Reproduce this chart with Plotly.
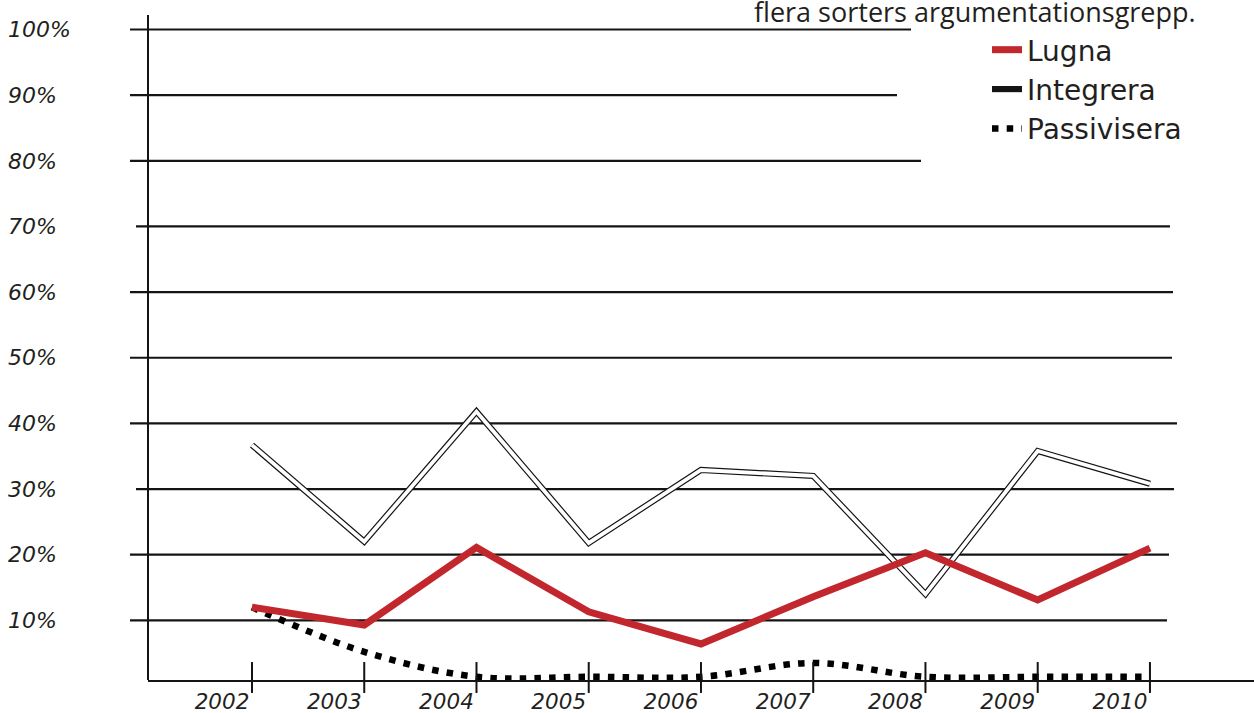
import plotly.graph_objects as go

# ---- data ----
years = [2002, 2003, 2004, 2005, 2006, 2007, 2008, 2009, 2010]
year_labels = ["2002", "2003", "2004", "2005", "2006", "2007", "2008", "2009", "2010"]
lugna = [12.0, 9.3, 21.1, 11.3, 6.4, 13.6, 20.3, 13.1, 21.0]
integrera = [36.7, 22.0, 41.8, 21.8, 32.9, 32.0, 14.0, 35.8, 30.8]
passivisera = [12.0, 5.2, 1.4, 1.4, 1.4, 3.5, 1.4, 1.4, 1.4]
y_ticks = [10, 20, 30, 40, 50, 60, 70, 80, 90, 100]
y_tick_labels = ["10%", "20%", "30%", "40%", "50%", "60%", "70%", "80%", "90%", "100%"]
series_names = ["Lugna", "Integrera", "Passivisera"]
note_text = "flera sorters argumentationsgrepp."

# ---- styling ----
W, H = 1254, 713
RED = "#c1272d"
INK = "#231f20"
LINE = "#141414"
grid_left_px = [130, 130, 136, 130, 130, 130, 136, 130, 130, 130]
grid_right_px = [1167, 1169, 1174, 1177, 1172, 1173, 1170, 921, 897, 911]
y_tick_font = dict(family="DejaVu Sans", size=22, color=INK, style="italic")
x_tick_font = dict(family="DejaVu Sans", size=21.5, color=INK, style="italic")

fig = go.Figure()

# Integrera: double (outlined) line
fig.add_trace(go.Scatter(x=years, y=integrera, mode="lines", name=series_names[1],
                         line=dict(color=LINE, width=6.2), legendrank=2))
fig.add_trace(go.Scatter(x=years, y=integrera, mode="lines", showlegend=False,
                         line=dict(color="white", width=3.8), hoverinfo="skip"))
# Passivisera: dotted smooth line
fig.add_trace(go.Scatter(x=years, y=passivisera, mode="lines", name=series_names[2],
                         line=dict(color="black", width=6.5, dash="6.5px,8.2px",
                                   shape="spline", smoothing=1.0), legendrank=3))
# Lugna: thick red line
fig.add_trace(go.Scatter(x=years, y=lugna, mode="lines", name=series_names[0],
                         line=dict(color=RED, width=7), legendrank=1))

shapes = []
for v, x0, x1 in zip(y_ticks, grid_left_px, grid_right_px):
    shapes.append(dict(type="line", xref="paper", yref="y", x0=x0 / W, x1=x1 / W,
                       y0=v, y1=v, line=dict(color=LINE, width=2.2), layer="below"))
# vertical axis line
shapes.append(dict(type="line", xref="x domain", yref="y domain", x0=0, x1=0, y0=0, y1=1,
                   line=dict(color=LINE, width=2)))
# tick marks crossing the x axis
for yr in years:
    shapes.append(dict(type="line", xref="x", yref="y domain", x0=yr, x1=yr,
                       y0=-0.0195, y1=0.027, line=dict(color=LINE, width=2)))

fig.update_layout(
    width=W, height=H,
    margin=dict(l=0, r=0, t=15, b=33, autoexpand=False),
    paper_bgcolor="white", plot_bgcolor="white",
    shapes=shapes,
    showlegend=True,
    legend=dict(x=987 / W, xanchor="left", y=0.985, yanchor="top",
                font=dict(family="DejaVu Sans", size=28, color=INK),
                bgcolor="rgba(0,0,0,0)", tracegroupgap=0, itemclick=False),
    xaxis=dict(domain=[148 / W, 1], range=[2001.0735, 2010.927], automargin=False,
               showline=True, linecolor=LINE, linewidth=2, ticks="",
               showgrid=False, zeroline=False,
               tickmode="array", tickvals=years, ticktext=year_labels,
               tickfont=x_tick_font, ticklabelshift=-30, ticklabelstandoff=1),
    yaxis=dict(range=[0.914, 102.21], anchor="free", position=4 / W,
               ticklabelposition="inside", showline=False, ticks="",
               showgrid=False, zeroline=False, automargin=False,
               tickmode="array", tickvals=y_ticks, ticktext=y_tick_labels,
               tickfont=y_tick_font),
    annotations=[dict(text=note_text, xref="paper", yref="paper", x=752 / W, y=1,
                      xanchor="left", yanchor="bottom", yshift=-17, showarrow=False,
                      font=dict(family="Open Sans", size=27, color=INK))],
)

fig.write_html("out.html", config={"displayModeBar": False},
               post_script="document.body.style.margin='0px';document.body.style.overflow='hidden';")
